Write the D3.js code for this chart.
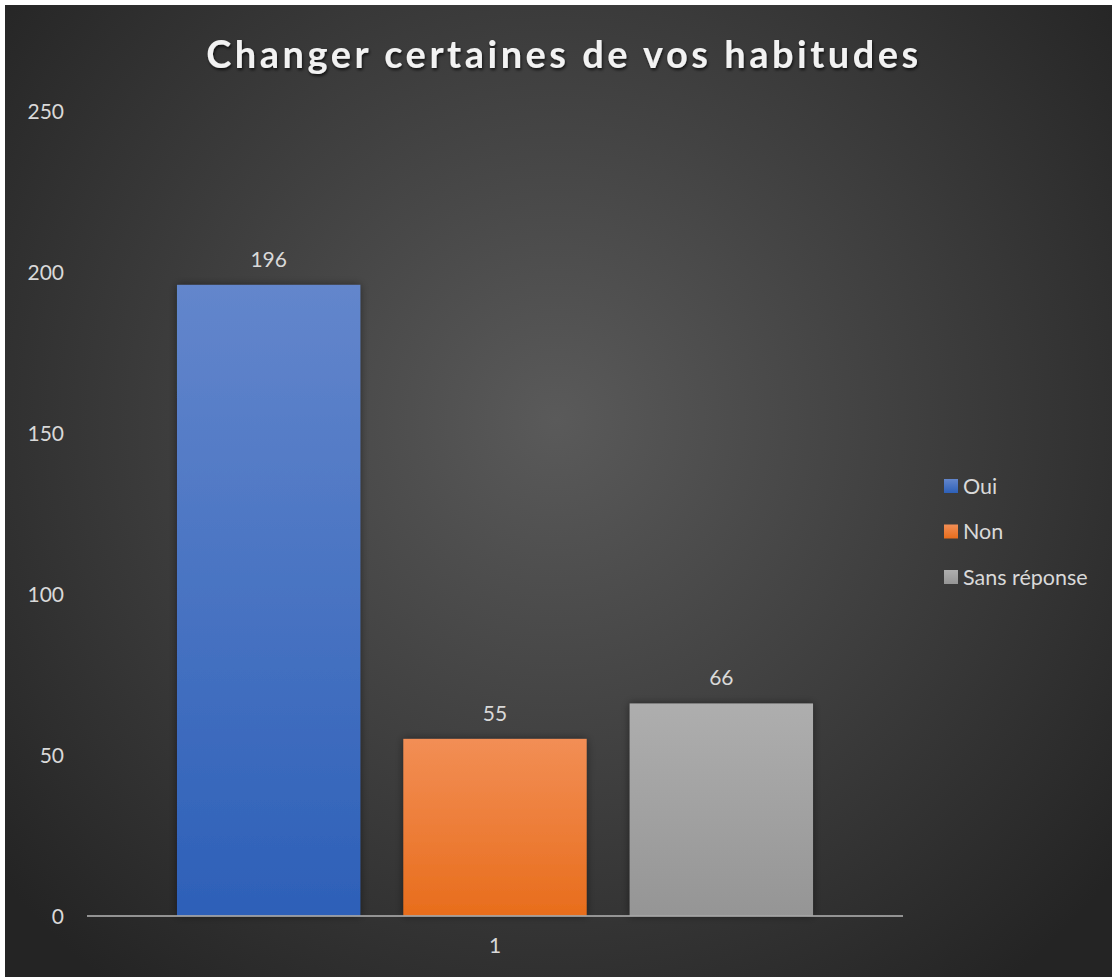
<!DOCTYPE html>
<html><head><meta charset="utf-8">
<script src="https://cdn.jsdelivr.net/npm/d3@7"></script>
<style>
html,body{margin:0;padding:0;background:#fff;}
svg{display:block;}
</style></head>
<body>
<script>
const title = "Changer certaines de vos habitudes";
const categories = ["1"];
const seriesNames = ["Oui", "Non", "Sans réponse"];
const seriesValues = [196, 55, 66];
const yTicks = [0, 50, 100, 150, 200, 250];
const seriesTop = ["#6386cc", "#f28e55", "#aeaeae"];
const seriesBottom = ["#2d60b8", "#e86d1c", "#959595"];

const W = 1112, H = 977;
const svg = d3.select("body").append("svg").attr("width", W).attr("height", H);
const defs = svg.append("defs");

const bg = defs.append("radialGradient").attr("id","bg")
  .attr("gradientUnits","userSpaceOnUse").attr("cx",556).attr("cy",420).attr("r",720);
bg.append("stop").attr("offset","0%").attr("stop-color","#5a5a5a");
bg.append("stop").attr("offset","100%").attr("stop-color","#242424");

seriesNames.forEach((s,i)=>{
  const g = defs.append("linearGradient").attr("id","g"+i).attr("x1",0).attr("y1",0).attr("x2",0).attr("y2",1);
  g.append("stop").attr("offset","0%").attr("stop-color",seriesTop[i]);
  g.append("stop").attr("offset","100%").attr("stop-color",seriesBottom[i]);
});
const sh = defs.append("filter").attr("id","sh").attr("x","-20%").attr("y","-20%").attr("width","140%").attr("height","140%");
sh.append("feDropShadow").attr("dx",0).attr("dy",0).attr("stdDeviation",4).attr("flood-color","#000").attr("flood-opacity",0.45);
const tsh = defs.append("filter").attr("id","tsh").attr("x","-10%").attr("y","-30%").attr("width","120%").attr("height","160%");
tsh.append("feDropShadow").attr("dx",1).attr("dy",2).attr("stdDeviation",1.5).attr("flood-color","#000").attr("flood-opacity",0.7);

svg.append("rect").attr("x",5).attr("y",5).attr("width",W-5).attr("height",H-5).attr("fill","url(#bg)");

const font = "Lato, 'Open Sans', sans-serif";
const x0 = 87, x1 = 903, yBase = 916, yTop = 111;

const y = d3.scaleLinear().domain([0,250]).range([yBase, yTop]);
const xc = d3.scaleBand().domain(categories).range([x0,x1]).paddingOuter(0.1415).paddingInner(0);
const xs = d3.scaleBand().domain(seriesNames).range([0, xc.bandwidth()]).paddingInner(0.19).paddingOuter(0);

// title
svg.append("text").attr("x", 564).attr("y", 68).attr("text-anchor","middle")
  .attr("font-family", font).attr("font-weight","bold").attr("font-size",38)
  .attr("letter-spacing","3.5px").attr("fill","#f2f2f2").attr("filter","url(#tsh)")
  .text(title);

// y axis
const yAxis = d3.axisLeft(y).tickValues(yTicks).tickSize(0).tickPadding(0);
const ya = svg.append("g").attr("transform","translate(64,0)").call(yAxis);
ya.select(".domain").remove();
ya.selectAll("text").attr("font-family",font).attr("font-size",21).attr("fill","#d9d9d9").attr("dy","0.35em");

// bars
const cat = svg.append("g").attr("transform",`translate(${xc(categories[0])},0)`);
cat.selectAll("rect").data(seriesValues).join("rect")
  .attr("x",(d,i)=>xs(seriesNames[i])).attr("width",xs.bandwidth())
  .attr("y",d=>y(d)).attr("height",d=>yBase-y(d))
  .attr("fill",(d,i)=>`url(#g${i})`).attr("filter","url(#sh)");
cat.selectAll("text.lbl").data(seriesValues).join("text").attr("class","lbl")
  .attr("x",(d,i)=>xs(seriesNames[i])+xs.bandwidth()/2).attr("y",d=>y(d)-18)
  .attr("text-anchor","middle").attr("font-family",font).attr("font-size",21).attr("fill","#d9d9d9")
  .text(d=>d);

// x axis
const xAxis = d3.axisBottom(xc).tickSize(0).tickPadding(22);
const xa = svg.append("g").attr("transform",`translate(0,${yBase})`).call(xAxis);
xa.select(".domain").remove();
svg.append("line").attr("x1",x0).attr("x2",x1).attr("y1",yBase).attr("y2",yBase)
  .attr("stroke","#a6a6a6").attr("stroke-width",2).attr("stroke-opacity",0.85);
xa.selectAll("text").attr("font-family",font).attr("font-size",21).attr("fill","#d9d9d9").attr("dy","0.71em");

// legend
const lg = svg.append("g");
seriesNames.forEach((s,i)=>{
  const yy = 486 + i*45.5;
  lg.append("rect").attr("x",944).attr("y",yy-7).attr("width",14).attr("height",14).attr("fill",`url(#g${i})`);
  lg.append("text").attr("x",963).attr("y",yy).attr("dy","0.35em").attr("font-family",font).attr("font-size",21.5)
    .attr("fill","#d9d9d9").text(s);
});
</script>
</body></html>
